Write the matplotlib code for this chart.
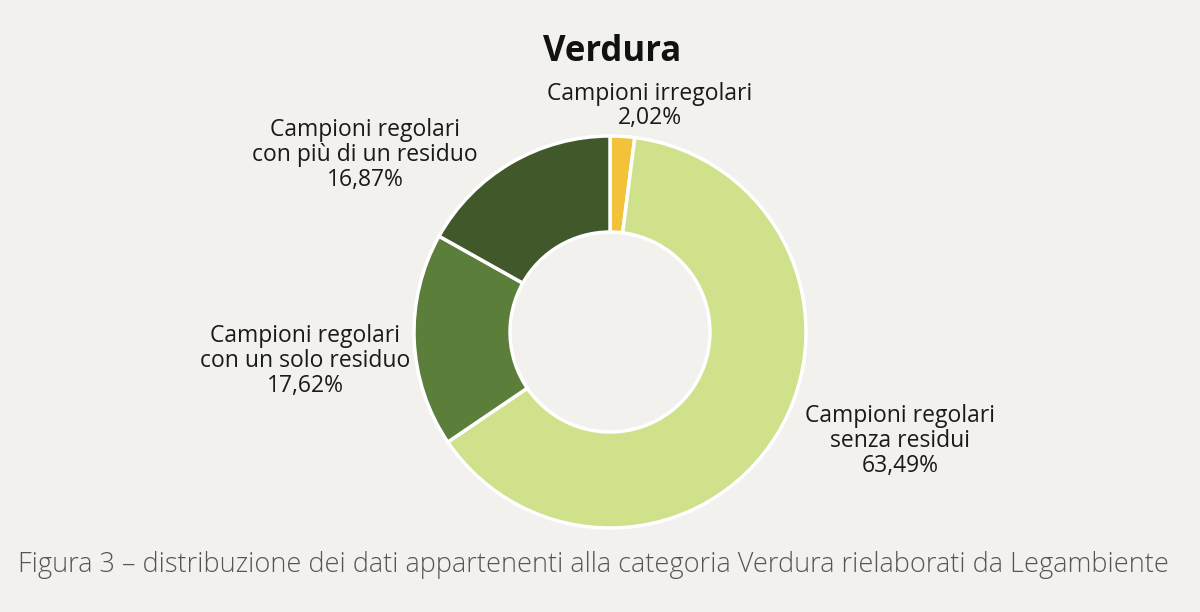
import matplotlib.pyplot as plt

labels = ["Campioni irregolari\n2,02%",
          "Campioni regolari\nsenza residui\n63,49%",
          "Campioni regolari\ncon un solo residuo\n17,62%",
          "Campioni regolari\ncon più di un residuo\n16,87%"]
values = [2.02, 63.49, 17.62, 16.87]
colors = ["#f2c23a", "#cfe18a", "#5b7f3b", "#40582a"]

fig = plt.figure(figsize=(12, 6.12), dpi=100)
fig.patch.set_facecolor("#f3f1ee")

# donut centred at about (610, 332) px, outer radius 196 px
ax = fig.add_axes([(610 - 196) / 1200, (612 - 528) / 612, 392 / 1200, 392 / 612])
ax.pie(values, colors=colors, startangle=90, counterclock=False,
       wedgeprops=dict(width=0.49, edgecolor="white", linewidth=2.5))
ax.set_xlim(-1, 1)
ax.set_ylim(-1, 1)
ax.set_aspect("equal")
ax.axis("off")

def px(x, y):
    return x / 1200, 1 - y / 612

font = "Open Sans"
fig.text(*px(612, 52), "Verdura", ha="center", va="center", fontsize=25,
         fontweight="bold", family=font, color="#111111")
pos = [(650, 106), (900, 441), (305, 361), (365, 155)]
for (x, y), lab in zip(pos, labels):
    fig.text(*px(x, y), lab, ha="center", va="center", fontsize=16.5, family=font,
             color="#1a1a1a", linespacing=1.05)

fig.text(*px(593, 565),
         "Figura 3 – distribuzione dei dati appartenenti alla categoria Verdura rielaborati da Legambiente",
         ha="center", va="center", fontsize=19.5, family=font, color="#555555",
         fontweight="light")

fig.savefig("out.png", facecolor=fig.get_facecolor())
